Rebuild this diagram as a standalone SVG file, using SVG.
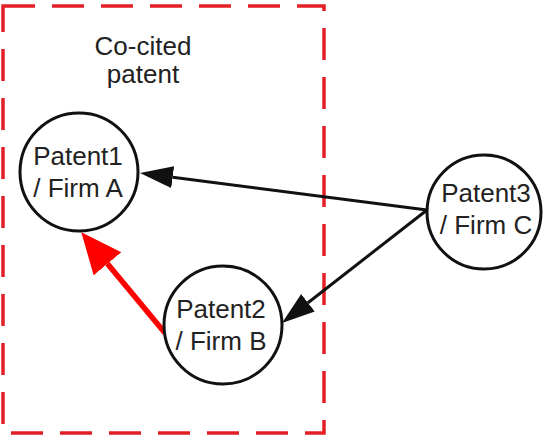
<svg xmlns="http://www.w3.org/2000/svg" width="546" height="447" viewBox="0 0 546 447">
<style>
.frame{fill:none;stroke:#e31f26;stroke-width:3.5;stroke-dasharray:32 17}
.node{fill:#fff;stroke:#111;stroke-width:3}
.lbl{font-family:"Liberation Sans",Arial,sans-serif;font-size:26px;fill:#222;text-anchor:middle}
.edge{fill:none;stroke:#111;stroke-width:3}
.edge-red{fill:none;stroke:#ff0000;stroke-width:5.5}
</style>
<defs>
<marker id="ah" markerUnits="userSpaceOnUse" markerWidth="34" markerHeight="24" refX="0" refY="11" orient="auto">
<path d="M0,0 L33,11 L0,22 z" fill="#111"/>
</marker>
<marker id="ahr" markerUnits="userSpaceOnUse" markerWidth="42" markerHeight="38" refX="0" refY="18" orient="auto">
<path d="M0,0 L41,18 L0,36 z" fill="#ff0000"/>
</marker>
</defs>
<rect class="frame" x="3" y="6" width="321" height="427"/>
<text class="lbl" x="143" y="55">Co-cited</text>
<text class="lbl" x="143" y="83">patent</text>
<g id="connectors">
<line class="edge" x1="427" y1="210" x2="172.7" y2="177.2" marker-end="url(#ah)"/>
<line class="edge" x1="427" y1="210" x2="308" y2="302.7" marker-end="url(#ah)"/>
<line class="edge-red" x1="165" y1="333" x2="107.5" y2="263.8" marker-end="url(#ahr)"/>
</g>
<g id="patent1">
<circle class="node" cx="79" cy="172" r="59"/>
<text class="lbl" x="78" y="165">Patent1</text>
<text class="lbl" x="78" y="197">/ Firm A</text>
</g>
<g id="patent2">
<circle class="node" cx="223" cy="325" r="59"/>
<text class="lbl" x="221" y="318">Patent2</text>
<text class="lbl" x="221" y="350">/ Firm B</text>
</g>
<g id="patent3">
<circle class="node" cx="484" cy="212" r="57"/>
<text class="lbl" x="486" y="202">Patent3</text>
<text class="lbl" x="486" y="234">/ Firm C</text>
</g>
</svg>
